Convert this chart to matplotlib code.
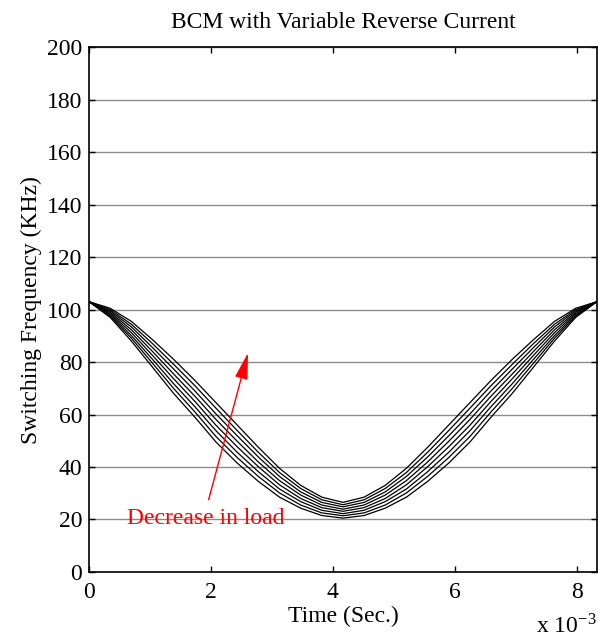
import matplotlib.pyplot as plt
import numpy as np

plt.rcParams['font.family'] = ['Liberation Serif', 'DejaVu Serif']
plt.rcParams['mathtext.fontset'] = 'stix'

# time in ms (axis shows x 10^-3 s)
time_ms = [0, 0.347, 0.694, 1.042, 1.389, 1.736, 2.083, 2.431, 2.778, 3.125, 3.472, 3.819, 4.167,
           4.514, 4.861, 5.208, 5.556, 5.903, 6.250, 6.597, 6.944, 7.292, 7.639, 7.986, 8.333]

# switching frequency (kHz), one curve per load level
freq_1 = [103, 97, 88, 78, 68, 59, 49.5, 41.5, 34.5, 28.5, 24.3, 21.5, 20.5,
          21.5, 24.3, 28.5, 34.5, 41.5, 49.5, 59, 68, 78, 88, 97, 103]
freq_2 = [103, 97.5, 89.1, 79.5, 69.9, 61, 51.6, 43.6, 36.4, 30.1, 25.5, 22.5, 21.4,
          22.5, 25.5, 30.1, 36.4, 43.6, 51.6, 61, 69.9, 79.5, 89.1, 97.5, 103]
freq_3 = [103, 98, 90.1, 81, 71.7, 63, 53.8, 45.6, 38.2, 31.6, 26.8, 23.5, 22.2,
          23.5, 26.8, 31.6, 38.2, 45.6, 53.8, 63, 71.7, 81, 90.1, 98, 103]
freq_4 = [103, 98.5, 91.2, 82.5, 73.6, 65, 55.9, 47.7, 40.1, 33.2, 28, 24.5, 23.1,
          24.5, 28, 33.2, 40.1, 47.7, 55.9, 65, 73.6, 82.5, 91.2, 98.5, 103]
freq_5 = [103, 99, 92.3, 84, 75.4, 67, 58.1, 49.8, 41.9, 34.8, 29.3, 25.5, 23.9,
          25.5, 29.3, 34.8, 41.9, 49.8, 58.1, 67, 75.4, 84, 92.3, 99, 103]
freq_6 = [103, 99.5, 93.4, 85.5, 77.3, 69, 60.2, 51.9, 43.8, 36.4, 30.5, 26.5, 24.8,
          26.5, 30.5, 36.4, 43.8, 51.9, 60.2, 69, 77.3, 85.5, 93.4, 99.5, 103]
freq_7 = [103, 100, 94.4, 87, 79.1, 71, 62.4, 53.9, 45.6, 37.9, 31.8, 27.5, 25.6,
          27.5, 31.8, 37.9, 45.6, 53.9, 62.4, 71, 79.1, 87, 94.4, 100, 103]
freq_8 = [103, 100.5, 95.5, 88.5, 81, 73, 64.5, 56, 47.5, 39.5, 33, 28.5, 26.5,
          28.5, 33, 39.5, 47.5, 56, 64.5, 73, 81, 88.5, 95.5, 100.5, 103]

curves = [freq_1, freq_2, freq_3, freq_4, freq_5, freq_6, freq_7, freq_8]

fig = plt.figure(figsize=(5.98, 6.39), dpi=100)
ax = fig.add_axes([0.149, 0.105, 0.849, 0.821])

for f in curves:
    ax.plot(time_ms, f, color='black', lw=0.9)

ax.set_xlim(0, 8.333)
ax.set_ylim(0, 200)
ax.set_xticks([0, 2, 4, 6, 8])
ax.set_yticks(np.arange(0, 201, 20))
ax.yaxis.grid(True, color='#8c8c8c', lw=1)
ax.set_axisbelow(True)
ax.tick_params(direction='in', length=4, width=1, top=True, right=True, labelsize=17)
ax.tick_params(axis='x', pad=7)
ax.tick_params(axis='y', pad=5)
for s in ax.spines.values():
    s.set_linewidth(1.2)

ax.set_title('BCM with Variable Reverse Current', fontsize=17, pad=14)
ax.set_xlabel('Time (Sec.)', fontsize=17, labelpad=2)
ax.set_ylabel('Switching Frequency (KHz)', fontsize=17, labelpad=3)
fig.text(0.998, 0.0, r'x 10$^{\mathregular{-3}}$', fontsize=17, ha='right', va='bottom')

ax.annotate('', xy=(2.62, 84.5), xytext=(1.95, 26.5),
            arrowprops=dict(arrowstyle='-|>,head_length=0.9,head_width=0.22',
                            color='red', lw=1, mutation_scale=18))
ax.text(1.92, 20.5, 'Decrease in load', color='red', fontsize=17, ha='center', va='center')

fig.savefig('out.png', dpi=100)
